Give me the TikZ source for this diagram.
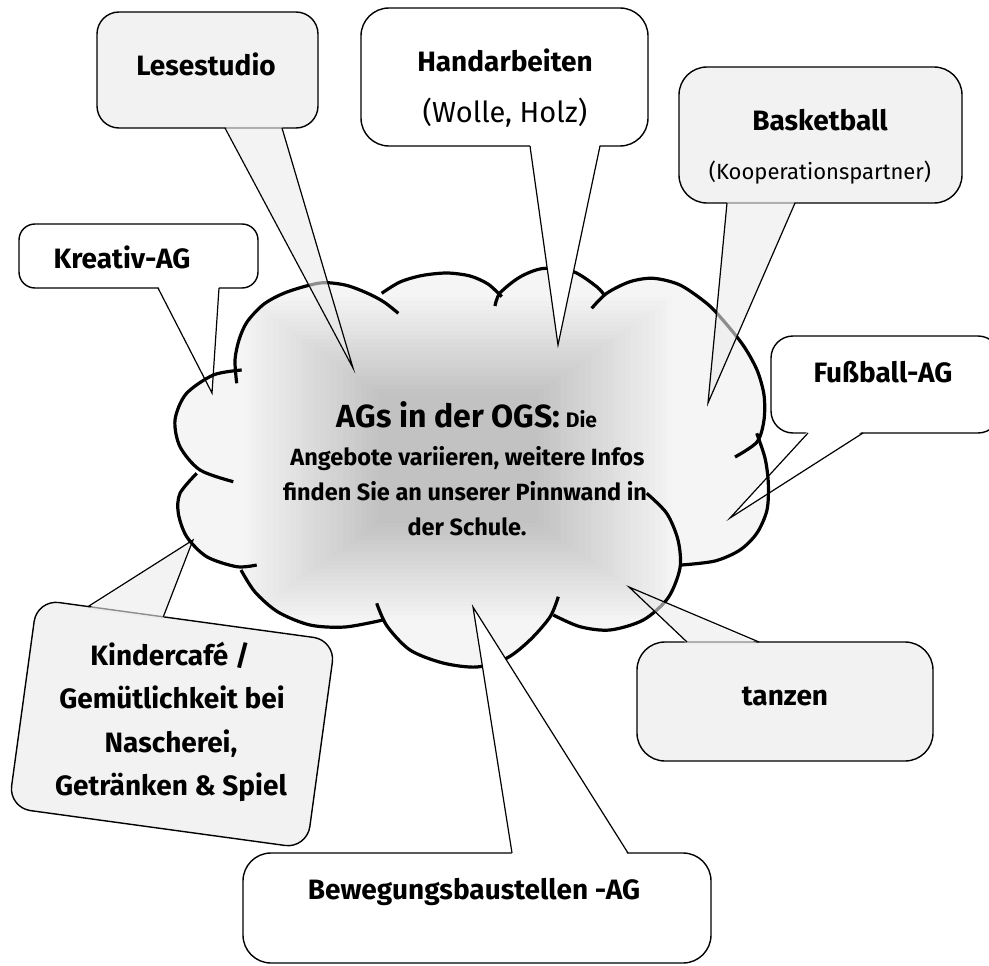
\documentclass[tikz,border=0pt]{standalone}
\usepackage{fontspec}
\setmainfont{Fira Sans}
\usetikzlibrary{calc}
\newcommand\mytail[5]{%
  \fill[#1] ($(#2)+(#5)$) -- (#3) -- ($(#4)+(#5)$) -- cycle;
  \draw[tailline] (#2) -- (#3) -- (#4);}
\begin{document}
\begin{tikzpicture}[x=1pt,y=-1pt,
  boxw/.style={draw=black, line width=1.4pt, fill=white, rounded corners=22pt, inner sep=0pt, outer sep=0pt},
  boxg/.style={boxw, fill=black!5},
  tailw/.style={fill=white},
  tailg/.style={fill=black!8, fill opacity=0.6},
  tailline/.style={draw=black, line width=1.2pt},
  cloudline/.style={draw=black, line width=3.2pt},
  lbl/.style={font=\bfseries\fontsize{28}{32}\selectfont, anchor=base, inner sep=0pt},
  sub/.style={font=\fontsize{29}{32}\selectfont, anchor=base, inner sep=0pt},
  ctr/.style={font=\bfseries\fontsize{23.5}{27}\selectfont, anchor=base, inner sep=0pt}]
\useasboundingbox (0,0) rectangle (989,966);

% ---------- cloud fill with stepped rectangular gradient
\begin{scope}
\clip plot[smooth] coordinates {(236.7,383.3) (235,360) (239,340) (247,322) (264,304) (287,292) (320,283) (345,285) (367,293) (384,302) (398.3,313.3)}
 -- plot[smooth] coordinates {(381.7,293.3) (400,282) (422,275.5) (447,273) (470,276) (488,284) (501.7,296.7)}
 -- plot[smooth] coordinates {(495,306) (500,293) (520,277) (543,268.5) (573,271.5) (596.7,286.7) (605,296)}
 -- plot[smooth] coordinates {(591.7,308.3) (606.7,293.3) (630,281.7) (653.3,278.3) (680,285) (706.7,303.3) (722,319) (743,345) (757,370) (764,395) (764,420) (757,442) (735,457)}
 -- plot[smooth] coordinates {(756.7,433.3) (765,458) (768.3,483) (767,510) (757,533) (740,550) (715,561) (681.7,565)}
 -- plot[smooth] coordinates {(646.7,493.3) (666.7,513.3) (678,540) (680,568) (668,598) (643.3,620) (610,630) (580,626.7) (553.3,615)}
 -- plot[smooth] coordinates {(558.3,596.7) (550,617) (530,640) (507,658) (477,667) (443,663) (410,650) (387,626) (376.7,603.3)}
 -- plot[smooth] coordinates {(383,620) (345,627) (310,625) (278,612) (255,592) (241,570)}
 -- plot[smooth] coordinates {(256.7,565) (236.7,566.7) (206.7,556.7) (186.7,536.7) (178.3,513.3) (180,493.3) (196.7,473.3)}
 -- plot[smooth] coordinates {(233.3,481.7) (200,470) (180,446.7) (175,420) (186,394) (213.3,375) (241.7,370)}
 -- cycle;
\fill[black!4] (150,250) rectangle (800,700);
\foreach \i in {0,...,24} {
  \pgfmathsetmacro\t{\i/24}
  \pgfmathsetmacro\hx{220-140*\t}
  \pgfmathsetmacro\hy{165-100*\t}
  \pgfmathsetmacro\g{4+20*\t}
  \fill[black!\g] (458-\hx,458-\hy) rectangle (458+\hx,458+\hy);
}
\end{scope}

% ---------- callouts lying under the cloud outline
\node[boxw, rounded corners=16pt, minimum width=239pt, minimum height=64pt] (kre) at (138.5,256) {};
\coordinate (kreA) at (158,288); \coordinate (kreT) at (212,393); \coordinate (kreB) at (219,288);
\mytail{tailw}{kreA}{kreT}{kreB}{0,-2}
\node[lbl] (kretx) at (122,268) {Kreativ-AG};

\node[boxw, minimum width=229pt, minimum height=97pt] (fus) at (885.5,384.5) {};
\coordinate (fusA) at (808,433); \coordinate (fusT) at (730,518); \coordinate (fusB) at (863,433);
\mytail{tailw}{fusA}{fusT}{fusB}{0,-2}
\node[lbl] (fustx) at (883,382) {Fußball-AG};

\node[boxg, rotate=-7.8, minimum width=301pt, minimum height=210pt] (kc) at (172,724) {};
\coordinate (kcA) at ($(kc.north west)!0.171!(kc.north east)$);
\coordinate (kcB) at ($(kc.north west)!0.423!(kc.north east)$);
\coordinate (kcT) at (193,540);
\mytail{tailg}{kcA}{kcT}{kcB}{0,2.5}
\node[lbl] (kc1) at (170,665) {Kindercafé /};
\node[lbl] (kc2) at (172,708) {Gemütlichkeit bei};
\node[lbl] (kc3) at (171,752) {Nascherei,};
\node[lbl] (kc4) at (171,795) {Getränken \& Spiel};

% ---------- cloud outline (separate bumps)
\draw[cloudline] plot[smooth] coordinates {(236.7,383.3) (235,360) (239,340) (247,322) (264,304) (287,292) (320,283) (345,285) (367,293) (384,302) (398.3,313.3)};
\draw[cloudline] plot[smooth] coordinates {(381.7,293.3) (400,282) (422,275.5) (447,273) (470,276) (488,284) (501.7,296.7)};
\draw[cloudline] plot[smooth] coordinates {(495,306) (500,293) (520,277) (543,268.5) (573,271.5) (596.7,286.7) (605,296)};
\draw[cloudline] plot[smooth] coordinates {(591.7,308.3) (606.7,293.3) (630,281.7) (653.3,278.3) (680,285) (706.7,303.3) (722,319) (743,345) (757,370) (764,395) (764,420) (757,442) (735,457)};
\draw[cloudline] plot[smooth] coordinates {(756.7,433.3) (765,458) (768.3,483) (767,510) (757,533) (740,550) (715,561) (681.7,565)};
\draw[cloudline] plot[smooth] coordinates {(646.7,493.3) (666.7,513.3) (678,540) (680,568) (668,598) (643.3,620) (610,630) (580,626.7) (553.3,615)};
\draw[cloudline] plot[smooth] coordinates {(558.3,596.7) (550,617) (530,640) (507,658) (477,667) (443,663) (410,650) (387,626) (376.7,603.3)};
\draw[cloudline] plot[smooth] coordinates {(383,620) (345,627) (310,625) (278,612) (255,592) (241,570)};
\draw[cloudline] plot[smooth] coordinates {(256.7,565) (236.7,566.7) (206.7,556.7) (186.7,536.7) (178.3,513.3) (180,493.3) (196.7,473.3)};
\draw[cloudline] plot[smooth] coordinates {(233.3,481.7) (200,470) (180,446.7) (175,420) (186,394) (213.3,375) (241.7,370)};

% ---------- callouts lying over the cloud
\node[boxg, minimum width=221pt, minimum height=116pt] (les) at (207.5,70) {};
\coordinate (lesA) at (225,128); \coordinate (lesT) at (353,368); \coordinate (lesB) at (282,128);
\mytail{tailg}{lesA}{lesT}{lesB}{0,-2}
\node[lbl] (lestx) at (206,76) {Lesestudio};

\node[boxw, rounded corners=28pt, minimum width=287pt, minimum height=138pt] (han) at (504.5,77) {};
\coordinate (hanA) at (530,146); \coordinate (hanT) at (558,345); \coordinate (hanB) at (600,146);
\mytail{tailw}{hanA}{hanT}{hanB}{0,-2}
\node[lbl] (hantx) at (505,72) {Handarbeiten};
\node[sub] (hansub) at (505,123) {(Wolle, Holz)};

\node[boxg, rounded corners=28pt, minimum width=283pt, minimum height=136pt] (bas) at (820.5,135) {};
\coordinate (basA) at (727,203); \coordinate (basT) at (708,403); \coordinate (basB) at (795,203);
\mytail{tailg}{basA}{basT}{basB}{0,-2}
\node[lbl] (bastx) at (820,130) {Basketball};
\node[sub, font=\fontsize{22}{25}\selectfont] (bassub) at (820,179) {(Kooperationspartner)};

\node[boxg, rounded corners=28pt, minimum width=296pt, minimum height=119pt] (tan) at (785,701.5) {};
\coordinate (tanA) at (687,642); \coordinate (tanT) at (629,587); \coordinate (tanB) at (759,642);
\mytail{tailg}{tanA}{tanT}{tanB}{0,2}
\node[lbl] (tantx) at (785,705) {tanzen};

\node[boxw, rounded corners=28pt, minimum width=468pt, minimum height=110pt] (bew) at (477,908) {};
\coordinate (bewA) at (512,853); \coordinate (bewT) at (473,607); \coordinate (bewB) at (628,853);
\mytail{tailw}{bewA}{bewT}{bewB}{0,2}
\node[lbl] (bewtx) at (474,899) {Bewegungsbaustellen -AG};

% ---------- central text
\node[ctr] (c1) at (467,427) {{\fontsize{32}{34}\selectfont AGs in der OGS:} {\fontsize{21}{24}\selectfont Die}};
\node[ctr] (c2) at (467.5,465) {Angebote variieren, weitere Infos};
\node[ctr] (c3) at (465,500) {finden Sie an unserer Pinnwand in};
\node[ctr] (c4) at (467,535) {der Schule.};
\end{tikzpicture}
\end{document}
